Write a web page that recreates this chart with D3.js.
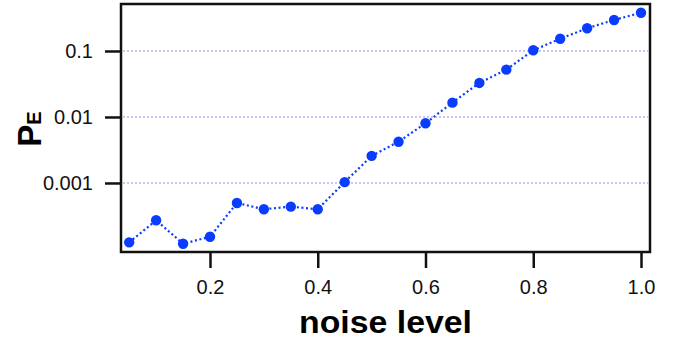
<!DOCTYPE html>
<meta charset="utf-8">
<style>
    body {
        margin: 0;
        background: #fff;
        font-family: "Liberation Sans", Arial, sans-serif;
    }

    .grid line {
        stroke: #8f8ff2;
        stroke-width: 1px;
        stroke-dasharray: 2, 2;
    }
</style>

<body>
    <script src="https://cdn.jsdelivr.net/npm/d3@7"></script>

    <script>

        // noise level vs error probability
        var noise = [0.05, 0.10, 0.15, 0.20, 0.25, 0.30, 0.35, 0.40, 0.45, 0.50,
            0.55, 0.60, 0.65, 0.70, 0.75, 0.80, 0.85, 0.90, 0.95, 1.00];
        var pe = [1.26e-4, 2.72e-4, 1.20e-4, 1.53e-4, 4.98e-4, 4.0e-4, 4.38e-4, 4.0e-4, 1.03e-3, 2.57e-3,
            4.22e-3, 8.03e-3, 0.0165, 0.0328, 0.0521, 0.1025, 0.153, 0.221, 0.295, 0.380];

        var xTicks = [0.2, 0.4, 0.6, 0.8, 1.0];
        var yTicks = [0.001, 0.01, 0.1];
        var yTickLabels = ["0.001", "0.01", "0.1"];

        var width = 681,
            height = 342,
            plotL = 121, plotR = 650, plotT = 4, plotB = 252;

        var x = d3.scaleLinear()
            .domain([0.0348, 1.0167])
            .range([plotL, plotR]);

        var y = d3.scaleLog()
            .domain([9.0e-5, 0.515])
            .range([plotB, plotT]);

        var svg = d3.select("body").append("svg")
            .attr("width", width)
            .attr("height", height);

        // grid lines
        svg.append("g").attr("class", "grid")
            .selectAll("line")
            .data(yTicks)
            .enter().append("line")
            .attr("x1", plotL + 2).attr("x2", plotR - 2)
            .attr("y1", function (d) { return y(d); })
            .attr("y2", function (d) { return y(d); });

        var xAxis = d3.axisBottom(x)
            .tickValues(xTicks)
            .tickFormat(d3.format(".1f"))
            .tickSize(16)
            .tickPadding(12);

        var yAxis = d3.axisLeft(y)
            .tickValues(yTicks)
            .tickFormat(function (d, i) { return yTickLabels[i]; })
            .tickSize(16)
            .tickPadding(12);

        function styleAxis(g) {
            g.select(".domain").remove();
            g.attr("font-family", null).attr("font-size", null);
            g.selectAll("line").attr("stroke", "#111").attr("stroke-width", 2.5);
            g.selectAll("text")
                .attr("fill", "#111")
                .style("font-family", '"Liberation Sans", Arial, sans-serif')
                .style("font-size", "20px");
        }

        svg.append("g")
            .attr("transform", "translate(0," + plotB + ")")
            .call(xAxis)
            .call(styleAxis);

        svg.append("g")
            .attr("transform", "translate(" + plotL + ",0)")
            .call(yAxis)
            .call(styleAxis);

        // frame
        svg.append("rect")
            .attr("x", plotL).attr("y", plotT)
            .attr("width", plotR - plotL).attr("height", plotB - plotT)
            .attr("fill", "none")
            .attr("stroke", "#111")
            .attr("stroke-width", 2.5);

        var line = d3.line()
            .x(function (d, i) { return x(noise[i]); })
            .y(function (d) { return y(d); });

        svg.append("path")
            .datum(pe)
            .attr("d", line)
            .attr("fill", "none")
            .attr("stroke", "#0a3cff")
            .attr("stroke-width", 2.2)
            .attr("stroke-dasharray", "2,2.6");

        svg.append("g")
            .selectAll("circle")
            .data(pe)
            .enter().append("circle")
            .attr("cx", function (d, i) { return x(noise[i]); })
            .attr("cy", function (d) { return y(d); })
            .attr("r", 5.2)
            .attr("fill", "#0a3cff");

        // axis titles
        svg.append("text")
            .attr("x", (plotL + plotR) / 2)
            .attr("y", 333)
            .attr("text-anchor", "middle")
            .attr("font-weight", "bold")
            .attr("font-size", 31)
            .attr("textLength", 173)
            .attr("lengthAdjust", "spacingAndGlyphs")
            .text("noise level");

        var yt = svg.append("text")
            .attr("transform", "translate(41," + ((plotT + plotB) / 2 + 1) + ") rotate(-90)")
            .attr("text-anchor", "middle")
            .attr("font-weight", "bold");
        yt.append("tspan").attr("font-size", 33).text("P");
        yt.append("tspan").attr("font-size", 20).text("E");

    </script>

</body>

</html>
